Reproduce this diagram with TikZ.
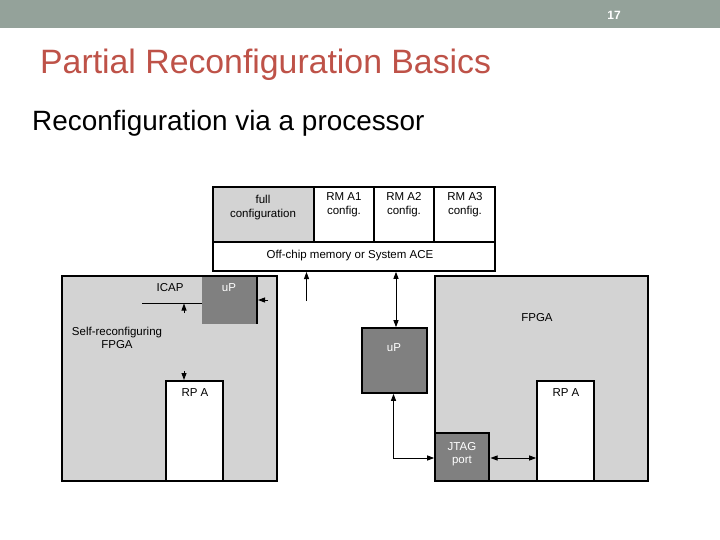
\documentclass[tikz,border=0pt]{standalone}
\usepackage{fontspec}
\setmainfont{Liberation Sans}
\usetikzlibrary{arrows.meta}
\definecolor{barcol}{RGB}{148,162,154}
\definecolor{titlecol}{RGB}{190,82,72}
\definecolor{lightfill}{RGB}{211,211,211}
\definecolor{darkfill}{RGB}{128,128,128}
\begin{document}
\begin{tikzpicture}[x=1pt,y=-1pt,
  box/.style={draw=black,line width=1.6pt,inner sep=0pt,outer sep=0pt,anchor=north west},
  lbl/.style={font=\fontsize{11.5}{13.5}\selectfont,align=center,inner sep=0pt},
  wlbl/.style={lbl,text=white},
  arr/.style={line width=0.9pt,-{Triangle[length=7pt,width=5pt]}},
  darr/.style={line width=0.9pt,{Triangle[length=7pt,width=5pt]}-{Triangle[length=7pt,width=5pt]}},
  thin/.style={line width=0.9pt}]
\useasboundingbox (0,0) rectangle (720,540);
\fill[barcol] (0,0) rectangle (720,28);
\node[text=white,font=\fontsize{12}{14}\selectfont\bfseries,inner sep=0pt] (pg) at (614,15.5) {17};
\node[text=titlecol,font=\fontsize{33.8}{40}\selectfont,anchor=base west,inner sep=0pt] (title) at (40,74) {Partial Reconfiguration Basics};
\node[font=\fontsize{27.9}{33}\selectfont,anchor=base west,inner sep=0pt] (sub) at (32,131) {Reconfiguration via a processor};

% memory
\node[box,fill=lightfill,minimum width=101pt,minimum height=55pt] (full) at (213,187) {};
\node[box,fill=white,minimum width=60pt,minimum height=55pt] (a1) at (314,187) {};
\node[box,fill=white,minimum width=60pt,minimum height=55pt] (a2) at (374,187) {};
\node[box,fill=white,minimum width=61pt,minimum height=55pt] (a3) at (434,187) {};
\node[box,fill=white,minimum width=282pt,minimum height=29pt] (mem) at (213,242) {};
\node[lbl] (fullt) at (263,207.5) {full\\configuration};
\node[lbl,anchor=north] (a1t) at (344,192.5) {RM A1\\config.};
\node[lbl,anchor=north] (a2t) at (404,192.5) {RM A2\\config.};
\node[lbl,anchor=north] (a3t) at (465,192.5) {RM A3\\config.};
\node[lbl] (memt) at (350,256) {Off-chip memory or System ACE};

% left FPGA
\node[box,fill=lightfill,minimum width=215pt,minimum height=205pt] (lf) at (62,276) {};
\fill[darkfill] (202,277) rectangle (257,324);
\draw[line width=1.6pt] (257,276) -- (257,324);
\node[wlbl] (lupt) at (229,288) {uP};
\node[lbl] (icap) at (170,288) {ICAP};
\coordinate (icapl) at (142,303);
\coordinate (icapr) at (202,303);
\draw[thin] (icapl) -- (icapr);
\coordinate (icapa) at (184,313);
\coordinate (icapb) at (184,303.5);
\draw[arr] (icapa) -- (icapb);
\coordinate (lina) at (268,300);
\coordinate (linb) at (258,300);
\draw[arr] (lina) -- (linb);
\node[lbl] (selft) at (117,338) {Self-reconfiguring\\FPGA};
\node[box,fill=white,minimum width=57pt,minimum height=100pt] (lrp) at (166,381) {};
\node[lbl] (lrpt) at (195,393) {RP A};
\coordinate (rpa) at (184,371);
\coordinate (rpb) at (184,380);
\draw[arr] (rpa) -- (rpb);

% middle
\coordinate (m1) at (306.5,301);
\coordinate (m2) at (306.5,272);
\draw[arr] (m1) -- (m2);
\node[box,fill=darkfill,minimum width=65pt,minimum height=65pt] (mup) at (362,328) {};
\node[wlbl] (mupt) at (394,348) {uP};
\coordinate (d1) at (396,271.8);
\coordinate (d2) at (396,327.2);
\draw[darr] (d1) -- (d2);

% right FPGA
\node[box,fill=lightfill,minimum width=213pt,minimum height=205pt] (rf) at (435,276) {};
\node[lbl] (fpgat) at (537,318) {FPGA};
\node[box,fill=darkfill,minimum width=54pt,minimum height=48pt] (jtag) at (435,433) {};
\node[wlbl] (jtagt) at (462,454) {JTAG\\port};
\node[box,fill=white,minimum width=57pt,minimum height=100pt] (rrp) at (537,381) {};
\node[lbl] (rrpt) at (566,393) {RP A};
\coordinate (j1) at (393.5,393.8);
\coordinate (j2) at (434.2,458);
\draw[darr] (j1) |- (j2);
\coordinate (k1) at (490.5,458);
\coordinate (k2) at (536.2,458);
\draw[darr] (k1) -- (k2);
\end{tikzpicture}
\end{document}
